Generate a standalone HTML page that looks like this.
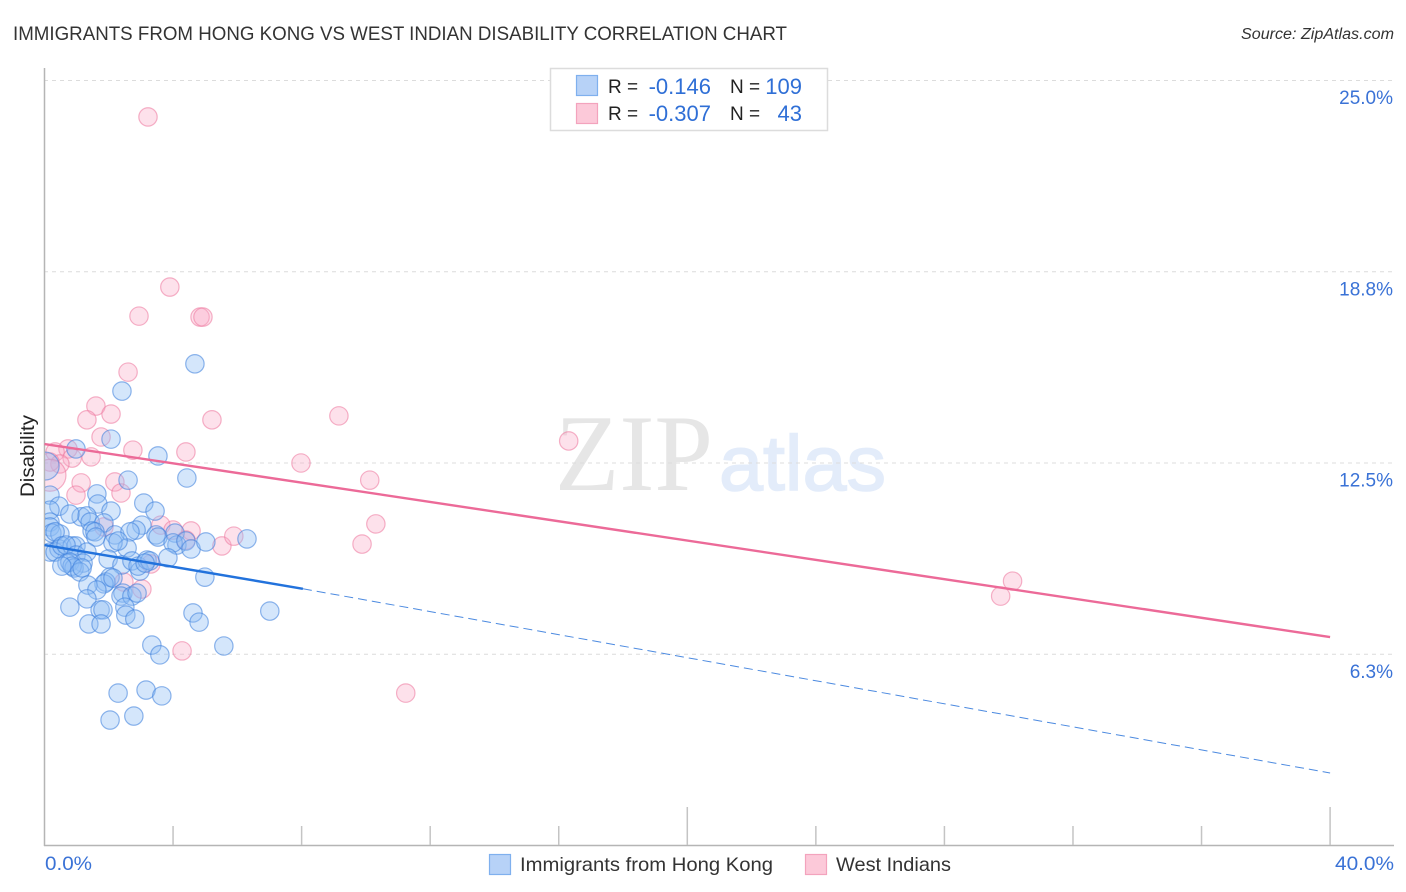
<!DOCTYPE html>
<html lang="en">
<head>
<meta charset="utf-8">
<title>Immigrants from Hong Kong vs West Indian Disability Correlation Chart</title>
<style>
html,body{margin:0;padding:0;background:#fff;width:1406px;height:892px;overflow:hidden}
svg{display:block;font-family:"Liberation Sans",sans-serif}
</style>
</head>
<body>
<svg id="chart" xmlns="http://www.w3.org/2000/svg" width="1406" height="892" viewBox="0 0 1406 892">
  <text x="13" y="40" font-size="19" fill="#333" textLength="774" lengthAdjust="spacingAndGlyphs">IMMIGRANTS FROM HONG KONG VS WEST INDIAN DISABILITY CORRELATION CHART</text>
  <text x="1241" y="39" font-size="15.5" font-style="italic" fill="#333" textLength="153" lengthAdjust="spacingAndGlyphs">Source: ZipAtlas.com</text>
  <g>
    <text x="555" y="490" font-family="'Liberation Serif',serif" font-size="109" fill="#e6e6e6" textLength="158" lengthAdjust="spacingAndGlyphs">ZIP</text>
    <text x="719" y="490" font-size="78" fill="#e3ecfa" stroke="#e3ecfa" stroke-width="1.5" textLength="167" lengthAdjust="spacingAndGlyphs">atlas</text>
  </g>
  <g id="grid"></g>
  <g id="axes"></g>
  <g id="points"></g>
  <g id="trends"></g>
  <text transform="translate(34,497) rotate(-90)" font-size="19" fill="#222" textLength="82" lengthAdjust="spacingAndGlyphs">Disability</text>
  <g>
    <rect x="550.5" y="68.5" width="277" height="62" fill="#fff" stroke="#dcdcdc" stroke-width="1.5"/>
    <rect x="576.5" y="75.5" width="21" height="20" fill="#b7d2f7" stroke="#7fb0ee" stroke-width="1.2"/>
    <rect x="576.5" y="103.5" width="21" height="20" fill="#fcc9d9" stroke="#f3a3bd" stroke-width="1.2"/>
    <text x="608" y="93" font-size="19" fill="#222">R =</text>
    <text x="711" y="94" font-size="22" fill="#2f6fd6" text-anchor="end">-0.146</text>
    <text x="730" y="93" font-size="19" fill="#222">N =</text>
    <text x="802" y="94" font-size="22" fill="#2f6fd6" text-anchor="end">109</text>
    <text x="608" y="120" font-size="19" fill="#222">R =</text>
    <text x="711" y="121" font-size="22" fill="#2f6fd6" text-anchor="end">-0.307</text>
    <text x="730" y="120" font-size="19" fill="#222">N =</text>
    <text x="802" y="121" font-size="22" fill="#2f6fd6" text-anchor="end">43</text>
  </g>
  <g>
    <rect x="489.5" y="854.5" width="21" height="20" fill="#b7d2f7" stroke="#7fb0ee" stroke-width="1.2"/>
    <text x="520" y="871" font-size="19.5" fill="#333" textLength="253" lengthAdjust="spacingAndGlyphs">Immigrants from Hong Kong</text>
    <rect x="805.5" y="854.5" width="21" height="20" fill="#fcc9d9" stroke="#f3a3bd" stroke-width="1.2"/>
    <text x="836" y="871" font-size="19.5" fill="#333" textLength="115" lengthAdjust="spacingAndGlyphs">West Indians</text>
  </g>
</svg>
<script>
const xTickValues = [0, 4, 8, 12, 16, 20, 24, 28, 32, 36, 40];
const majorXTicks = [20, 40];
const xTickLabels = ["0.0%", "40.0%"];
const yTickValues = [25, 18.75, 12.5, 6.25];
const yTickLabels = ["25.0%", "18.8%", "12.5%", "6.3%"];

const hongKongX = [4.68,2.41,2.07,0.98,3.53,4.43,2.60,0.17,1.63,3.09,1.66,0.45,3.44,2.07,1.14,1.32,0.79,1.42,1.85,0.17,0.17,0.17,0.23,0.48,0.33,1.48,1.57,1.60,2.19,3.03,2.85,2.66,3.47,3.53,4.06,4.12,4.00,4.40,4.56,5.02,6.30,2.57,2.13,2.29,0.17,0.45,0.33,0.54,0.86,0.98,0.67,0.98,1.32,1.98,1.20,0.70,0.79,0.92,0.86,0.54,1.10,1.17,2.41,2.72,2.97,2.91,3.19,3.28,3.13,3.84,4.99,2.04,1.91,1.85,2.13,1.35,1.63,1.32,0.79,2.44,2.38,2.72,2.88,2.50,2.53,2.81,1.73,1.82,1.38,1.76,4.62,4.81,7.01,5.58,3.34,3.59,2.29,3.16,3.65,2.78,2.04];
const hongKongY = [15.74,14.85,13.28,12.96,12.73,12.01,11.94,11.45,11.49,11.19,11.16,11.09,10.93,10.93,10.74,10.77,10.83,10.57,10.54,10.96,10.57,10.41,10.21,10.18,10.25,10.28,10.25,10.08,10.15,10.47,10.31,10.25,10.15,10.08,10.21,9.82,9.89,9.95,9.69,9.92,10.02,9.72,9.89,9.95,9.59,9.69,9.59,9.79,9.79,9.79,9.82,9.49,9.59,9.36,9.23,9.23,9.26,9.07,9.13,9.13,8.94,9.07,9.17,9.30,8.97,9.13,9.33,9.30,9.23,9.40,8.77,8.77,8.61,8.55,8.74,8.51,8.35,8.06,7.79,8.25,8.15,8.15,8.25,7.79,7.53,7.40,7.70,7.70,7.24,7.24,7.60,7.30,7.66,6.52,6.55,6.23,4.98,5.08,4.89,4.23,4.10];
const hongKongLargeX = [0.02];
const hongKongLargeY = [12.40];

const westIndianX = [3.22,3.90,2.94,4.84,4.93,2.60,1.60,2.07,1.32,5.21,9.16,1.76,2.75,4.40,1.45,7.98,10.12,16.31,0.73,0.33,0.86,0.48,0.17,1.14,0.98,2.19,2.38,1.85,3.62,4.00,4.56,4.40,5.52,5.89,9.88,10.31,30.12,29.75,2.47,3.03,3.31,4.28,11.24];
const westIndianY = [23.81,18.25,17.30,17.27,17.27,15.47,14.36,14.10,13.91,13.91,14.04,13.35,12.92,12.86,12.70,12.50,11.94,13.22,12.96,12.86,12.66,12.47,12.53,11.85,11.45,11.88,11.52,10.41,10.47,10.31,10.28,9.98,9.79,10.11,9.85,10.51,8.64,8.15,8.61,8.38,9.20,6.36,4.98];
const westIndianLargeX = [0.17];
const westIndianLargeY = [12.10];

const hongKongTrendX = [0, 8.04, 40];
const hongKongTrendY = [9.82, 8.39, 2.37];
const westIndianTrendX = [0, 40];
const westIndianTrendY = [13.12, 6.81];

const NS = "http://www.w3.org/2000/svg";
function xScale(v){ return 44.5 + v * 32.14; }
function yScale(v){ return 845.5 - v * 30.6; }
function make(tag, attrs, parent){
  const el = document.createElementNS(NS, tag);
  for (const k in attrs) el.setAttribute(k, attrs[k]);
  parent.appendChild(el);
  return el;
}

const grid = document.getElementById('grid');
yTickValues.forEach(function(v){
  const gl = make('line', {x1:44, x2:1394, y1:yScale(v), y2:yScale(v), stroke:'#dcdcdc', 'stroke-width':1, 'stroke-dasharray':'4 4'}, grid);
  
  
});

const axes = document.getElementById('axes');
const yAxisLine = make('line', {x1:44.5, x2:44.5, y1:68, y2:846, stroke:'#b5b5b5', 'stroke-width':1.5}, axes);


const xAxisLine = make('line', {x1:44, x2:1394, y1:845.5, y2:845.5, stroke:'#b5b5b5', 'stroke-width':1.5}, axes);


xTickValues.forEach(function(v){
  if (v === 0) return;
  const top = majorXTicks.indexOf(v) >= 0 ? 807 : 826;
  const t = make('line', {x1:xScale(v), x2:xScale(v), y1:top, y2:845, stroke:'#c4c4c4', 'stroke-width':1.5}, axes);
  
  
});
yTickValues.forEach(function(v, i){
  const t = make('text', {x:1393, y:yScale(v) + 23.5, 'font-size':19, fill:'#3a72d6', 'text-anchor':'end'}, axes);
  
  
  t.textContent = yTickLabels[i];
});
const xl0 = make('text', {x:45, y:870, 'font-size':19, fill:'#3a72d6', textLength:47, lengthAdjust:'spacingAndGlyphs'}, axes);


xl0.textContent = xTickLabels[0];
const xl1 = make('text', {x:1335, y:870, 'font-size':19, fill:'#3a72d6', textLength:59, lengthAdjust:'spacingAndGlyphs'}, axes);


xl1.textContent = xTickLabels[1];

const points = document.getElementById('points');
const clip = make('clipPath', {id:'plot-clip'}, points);
make('rect', {x:45, y:60, width:1360, height:786}, clip);
points.setAttribute('clip-path', 'url(#plot-clip)');

const pinkStyle = {fill:'#f9a8c4', 'fill-opacity':0.34, stroke:'#ee7fa3', 'stroke-opacity':0.6, 'stroke-width':1.2};
const blueStyle = {fill:'#8fbcf5', 'fill-opacity':0.38, stroke:'#3f82dc', 'stroke-opacity':0.58, 'stroke-width':1.2};

westIndianX.forEach(function(v, i){
  const c = make('circle', Object.assign({cx:xScale(v), cy:yScale(westIndianY[i]), r:9.2}, pinkStyle), points);
  
  
});
westIndianLargeX.forEach(function(v, i){
  const c = make('circle', Object.assign({cx:xScale(v), cy:yScale(westIndianLargeY[i]), r:16}, pinkStyle), points);
  
  
});
hongKongX.forEach(function(v, i){
  const c = make('circle', Object.assign({cx:xScale(v), cy:yScale(hongKongY[i]), r:9.2}, blueStyle), points);
  
  
});
hongKongLargeX.forEach(function(v, i){
  const c = make('circle', Object.assign({cx:xScale(v), cy:yScale(hongKongLargeY[i]), r:14}, blueStyle), points);
  
  
});

const trends = document.getElementById('trends');
const hkSolid = make('line', {x1:xScale(hongKongTrendX[0]), y1:yScale(hongKongTrendY[0]), x2:xScale(hongKongTrendX[1]), y2:yScale(hongKongTrendY[1]), stroke:'#2272dc', 'stroke-width':2.4}, trends);


const hkDash = make('line', {x1:xScale(hongKongTrendX[1]), y1:yScale(hongKongTrendY[1]), x2:xScale(hongKongTrendX[2]), y2:yScale(hongKongTrendY[2]), stroke:'#4c8ae0', 'stroke-width':1, 'stroke-dasharray':'9 5'}, trends);


const wiLine = make('line', {x1:xScale(westIndianTrendX[0]), y1:yScale(westIndianTrendY[0]), x2:xScale(westIndianTrendX[1]), y2:yScale(westIndianTrendY[1]), stroke:'#ec6a98', 'stroke-width':2.4}, trends);


</script>
</body>
</html>
